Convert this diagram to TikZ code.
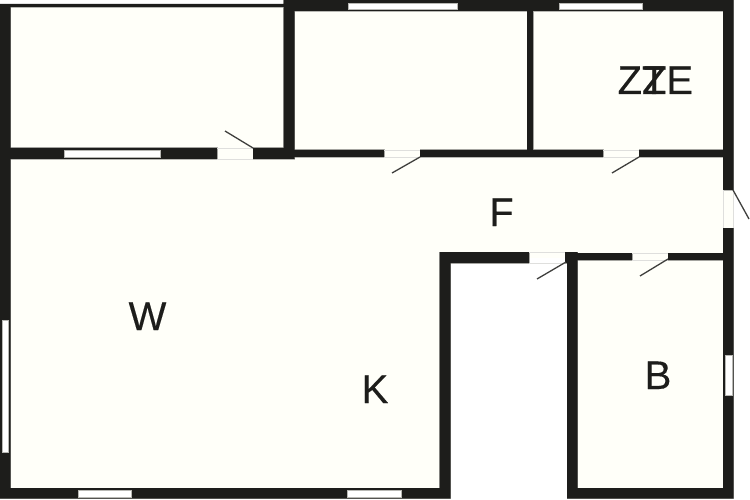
\documentclass[tikz,border=0pt]{standalone}
\usepackage{fontspec}
\setmainfont[FakeBold=0.3]{Liberation Sans}
\definecolor{wallc}{HTML}{1D1D1B}
\definecolor{roomc}{HTML}{FFFFF9}
\definecolor{edgec}{HTML}{B8B8B4}
\tikzset{
  x=1pt,y=-1pt,
  halo/.style={draw=edgec,line width=0.8pt},
  win/.style={fill=white,draw=edgec,line width=0.5pt},
  gapline/.style={draw=edgec!45!white,line width=0.8pt},
  leaf/.style={draw=wallc!85!white,line width=1.3pt},
  lab/.style={font=\fontsize{40}{40}\selectfont,text=wallc,inner sep=0pt,anchor=base}
}
\begin{document}
\begin{tikzpicture}
\useasboundingbox (0,0) rectangle (750,500);
\fill[white] (0,0) rectangle (750,500);
% floors
\fill[roomc] (0,5) rectangle (284,159);
\fill[roomc] (284,0) rectangle (733,258);
\fill[roomc] (0,150) rectangle (445,498);
\fill[roomc] (572,258) rectangle (733,498);
% wall outlines (soft grey edge)
\path[halo] (0,5) rectangle (10.5,498.5);
\path[halo] (0,4) rectangle (285,7.2);
\path[halo] (284,0) rectangle (733.5,11.5);
\path[halo] (723,0) rectangle (733.5,190);
\path[halo] (723,228) rectangle (733.5,498.5);
\path[halo] (0,488) rectangle (450.5,498.5);
\path[halo] (567,488) rectangle (733.5,498.5);
\path[halo] (439.5,252) rectangle (450.5,498.5);
\path[halo] (439.5,252) rectangle (529,263.5);
\path[halo] (565,252) rectangle (577.5,263.5);
\path[halo] (567,252) rectangle (577.5,498.5);
\path[halo] (577,253) rectangle (632,260.5);
\path[halo] (668,253) rectangle (723,260.5);
\path[halo] (10,147.5) rectangle (217,159.5);
\path[halo] (253,147.5) rectangle (294.5,159.5);
\path[halo] (283.5,0) rectangle (294.5,159.5);
\path[halo] (294,149.5) rectangle (384,157.5);
\path[halo] (420,149.5) rectangle (603,157.5);
\path[halo] (639,149.5) rectangle (723,157.5);
\path[halo] (527,11) rectangle (533.5,150);
% walls
\fill[wallc] (0,5) rectangle (10.5,498.5)
  (0,4) rectangle (285,7)
  (284,0) rectangle (733.5,11)
  (723,0) rectangle (733.5,190)
  (723,228) rectangle (733.5,498.5)
  (0,488) rectangle (450.5,498.5)
  (567,488) rectangle (733.5,498.5)
  (439.5,252) rectangle (450.5,498.5)
  (439.5,252) rectangle (529,263)
  (565,252) rectangle (577.5,263)
  (567,252) rectangle (577.5,498.5)
  (577,253) rectangle (632,260)
  (668,253) rectangle (723,260)
  (0,148) rectangle (217,159)
  (253,148) rectangle (294.5,159)
  (283.5,0) rectangle (294.5,159)
  (294,150) rectangle (384,157)
  (420,150) rectangle (603,157)
  (639,150) rectangle (723,157)
  (527,11) rectangle (533,150);
% door openings
\path[gapline] (217,148) -- (253,148) (217,159) -- (253,159);
\path[gapline] (384,150) -- (420,150) (384,157) -- (420,157);
\path[gapline] (603,150) -- (639,150) (603,157) -- (639,157);
\path[gapline] (529,252) -- (565,252) (529,263) -- (565,263);
\path[gapline] (632,253) -- (668,253) (632,260) -- (668,260);
\path[gapline] (723,190) -- (723,228) (733,190) -- (733,228);
% windows
\path[win] (64,150) rectangle (160,157);
\path[win] (348,3) rectangle (457,9);
\path[win] (559,3) rectangle (642,9);
\path[win] (2,320) rectangle (8,452);
\path[win] (78,490) rectangle (131,497);
\path[win] (347,490) rectangle (401,497);
\path[win] (725,355) rectangle (732,395);
% door leaves
\coordinate (d1a) at (253,148); \coordinate (d1b) at (225,131);
\coordinate (d2a) at (420,157); \coordinate (d2b) at (392,173);
\coordinate (d3a) at (639,157); \coordinate (d3b) at (612,173);
\coordinate (d4a) at (733,190); \coordinate (d4b) at (749,219);
\coordinate (d5a) at (566,262); \coordinate (d5b) at (537,279);
\coordinate (d6a) at (668,259); \coordinate (d6b) at (640,276);
\draw[leaf] (d1a) -- (d1b);
\draw[leaf] (d2a) -- (d2b);
\draw[leaf] (d3a) -- (d3b);
\draw[leaf] (d4a) -- (d4b);
\draw[leaf] (d5a) -- (d5b);
\draw[leaf] (d6a) -- (d6b);
% labels
\node[lab] (w) at (147.5,330) {W};
\node[lab] (k) at (375,403) {K};
\node[lab] (f) at (501.5,226) {F};
\node[lab] (b) at (658,389) {B};
\node[lab] (zz) at (642,94) {ZZ};
\node[lab] (te) at (667.5,94) {TE};
\end{tikzpicture}
\end{document}
